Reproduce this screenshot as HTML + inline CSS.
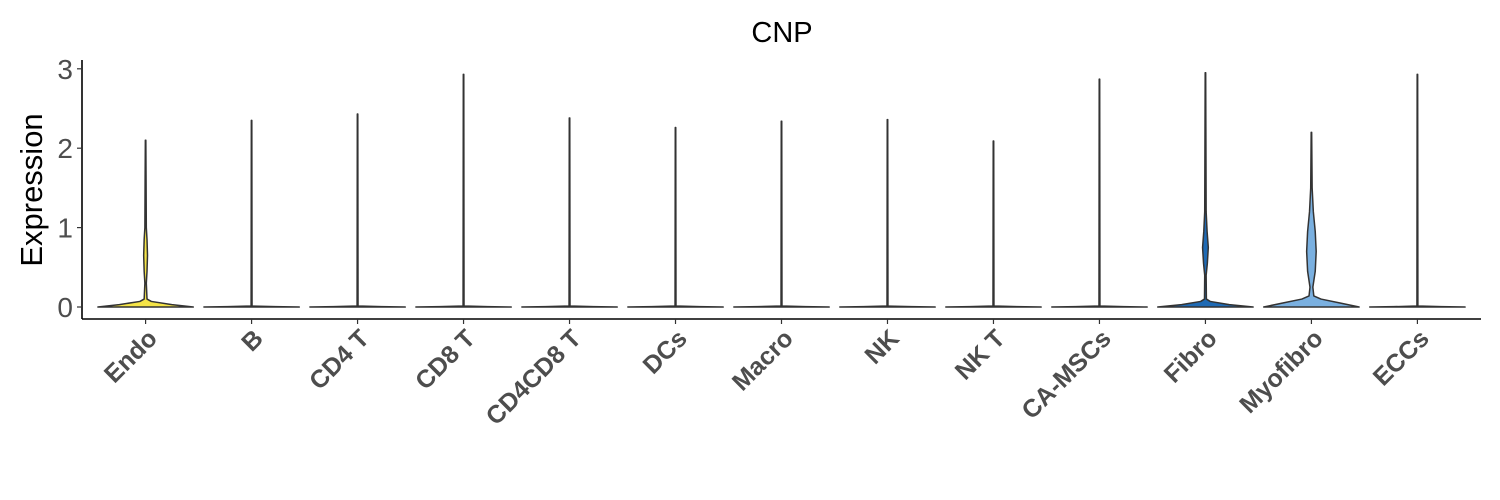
<!DOCTYPE html>
<html><head><meta charset="utf-8"><style>
html,body{margin:0;padding:0;background:#fff;}
svg{display:block;font-family:"Liberation Sans",Arial,sans-serif;}
</style></head><body>
<svg id="chart" width="1500" height="500" viewBox="0 0 1500 500">
<rect width="1500" height="500" fill="#fff"/>
<text x="782" y="42" font-size="29" text-anchor="middle" fill="#000">CNP</text>
<text transform="translate(42,190) rotate(-90)" font-size="31" text-anchor="middle" fill="#000">Expression</text>
<g id="plot"></g>
</svg>
<script>
const categories = ["Endo","B","CD4 T","CD8 T","CD4CD8 T","DCs","Macro","NK","NK T","CA-MSCs","Fibro","Myofibro","ECCs"];
const maxValues = [2.1,2.35,2.43,2.93,2.38,2.26,2.34,2.36,2.09,2.87,2.95,2.2,2.93];
const fills = ["#F5E447","#F8D84A","#F2C44A","#E8B04A","#D9A04F","#C99055","#B5845E","#9C7F6B","#7E7D7E","#5E7A95","#1F6AB4","#7AB0E0","#9ABFE6"];
const yTicks = [0,1,2,3];
// density profiles: [value, relative half-width]
const profiles = {
  "Endo": [[0,1],[0.03,0.55],[0.07,0.12],[0.1,0.03],[0.3,0.015],[0.45,0.03],[0.65,0.04],[0.85,0.03],[1.0,0.015],[1.6,0.01],[2.1,0.005]],
  "Fibro": [[0,1],[0.03,0.5],[0.07,0.1],[0.1,0.02],[0.4,0.015],[0.55,0.04],[0.75,0.06],[0.95,0.035],[1.2,0.015],[2.95,0.005]],
  "Myofibro": [[0,1],[0.05,0.6],[0.1,0.2],[0.14,0.05],[0.25,0.03],[0.45,0.08],[0.7,0.1],[0.95,0.08],[1.2,0.04],[1.5,0.015],[2.2,0.005]]
};
const NS="http://www.w3.org/2000/svg";
const plot=document.getElementById('plot');
const X0=82, X1=1481, Y0=307, YU=79.4, AXY=319;
const band=(X1-X0)/(categories.length-1+1.2);
function xScale(i){return X0+band*(0.6+i);}
function yScale(v){return Y0-v*YU;}
const HW=band*0.45;
function mk(tag,attrs){const e=document.createElementNS(NS,tag);for(const k in attrs)e.setAttribute(k,attrs[k]);plot.appendChild(e);return e;}
let ax=mk('line',{x1:X0,y1:AXY,x2:X1,y2:AXY,stroke:'#000','stroke-width':1.6});


let ay=mk('line',{x1:X0,y1:60,x2:X0,y2:AXY,stroke:'#000','stroke-width':1.6});


yTicks.forEach(t=>{
  const y=yScale(t);
  let l=mk('line',{x1:X0-5,y1:y,x2:X0,y2:y,stroke:'#333','stroke-width':1.2});
  
  
  let tx=mk('text',{x:X0-9,y:y+10,'font-size':28,'text-anchor':'end',fill:'#4d4d4d'});
  tx.textContent=t;
  
  
});
categories.forEach((c,i)=>{
  const cx=xScale(i);
  const mx=maxValues[i];
  let prof=profiles[c]||[[0,1],[0.004,0.5],[0.012,0.01],[mx,0.005]];
  prof=prof.filter(p=>p[0]<=mx);
  if(prof[prof.length-1][0]<mx)prof.push([mx,0.005]);
  let right=prof.map(p=>[cx+p[1]*HW,yScale(p[0])]);
  let left=prof.slice().reverse().map(p=>[cx-p[1]*HW,yScale(p[0])]);
  let pts=right.concat(left);
  let d='M'+pts.map(p=>p[0].toFixed(2)+','+p[1].toFixed(2)).join('L')+'Z';
  let v=mk('path',{d:d,fill:fills[i],stroke:'#333','stroke-width':1.5,'stroke-linejoin':'round'});
  
  
  let tk=mk('line',{x1:cx,y1:AXY,x2:cx,y2:AXY+5,stroke:'#333','stroke-width':1.2});
  
  
  let tl=mk('text',{transform:`translate(${cx+13},${AXY+21}) rotate(-45)`,'font-size':25,'font-weight':'bold','text-anchor':'end',fill:'#4d4d4d'});
  tl.textContent=c;
  
  
});
</script>
</body></html>
